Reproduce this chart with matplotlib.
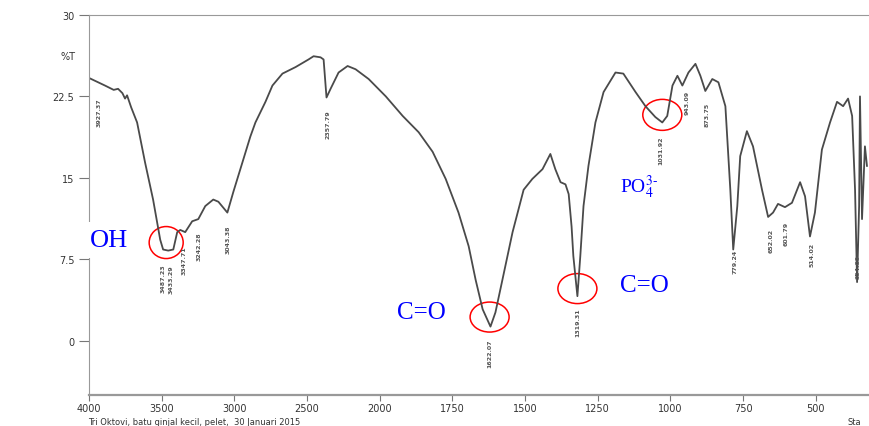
import numpy as np
import matplotlib.pyplot as plt
from matplotlib.patches import Ellipse
from matplotlib.transforms import ScaledTranslation

plt.rcParams['mathtext.fontset'] = 'stix'

# spektrum FTIR (bilangan gelombang cm-1, %T)
wn = [4000, 3890, 3830, 3800, 3770, 3752, 3738, 3710, 3669, 3614, 3559, 3510,
      3490, 3455, 3420, 3393, 3372, 3338, 3290, 3248, 3200, 3145, 3110, 3048,
      3007, 2945, 2890, 2855, 2786, 2738, 2669, 2579, 2490, 2455, 2407, 2386,
      2366, 2338, 2283, 2221, 2166, 2076, 1979, 1921, 1866, 1818, 1773, 1729,
      1694, 1670, 1646, 1619, 1602, 1578, 1543, 1505, 1475, 1440, 1413, 1396,
      1378, 1361, 1350, 1340, 1334, 1320, 1310, 1299, 1282, 1258, 1230, 1189,
      1162, 1120, 1086, 1052, 1028, 1011, 993, 976, 959, 938, 914, 897, 880,
      856, 835, 811, 794, 784, 770, 760, 737, 716, 685, 664, 647, 630, 606,
      582, 554, 537, 520, 503, 479, 451, 427, 406, 389, 375, 365, 358, 351,
      348, 341, 331, 324]
T = [24.2, 23.5, 23.1, 23.2, 22.8, 22.3, 22.6, 21.5, 20.1, 16.4, 13.0, 9.3,
     8.4, 8.3, 8.4, 10.0, 10.2, 10.0, 11.0, 11.2, 12.4, 13.0, 12.8, 11.8,
     13.7, 16.4, 18.8, 20.1, 22.0, 23.5, 24.6, 25.2, 25.9, 26.2, 26.1, 25.9,
     22.4, 23.2, 24.7, 25.3, 25.0, 24.1, 22.5, 20.7, 19.2, 17.4, 14.9, 11.8,
     8.7, 5.6, 2.9, 1.3, 2.6, 5.6, 10.0, 13.9, 14.9, 15.8, 17.2, 15.8,
     14.6, 14.4, 13.5, 10.5, 7.8, 4.1, 7.8, 12.4, 16.1, 20.1, 22.9, 24.7,
     24.6, 22.9, 21.6, 20.6, 20.1, 20.7, 23.5, 24.4, 23.5, 24.7, 25.5, 24.4, 23.0,
     24.1, 23.8, 21.6, 13.9, 8.4, 12.4, 17.0, 19.3, 17.9, 13.9, 11.4, 11.8, 12.6, 12.3,
     12.7, 14.6, 13.3, 9.6, 11.8, 17.6, 20.1, 22.0, 21.6, 22.3, 20.7, 13.9, 5.4, 12.4,
     22.5, 11.2, 17.9, 16.1]

# label puncak (nilai perkiraan)
peak_lbl = ['3927.37', '3487.23', '3433.29', '3347.71', '3242.28', '3043.38',
            '2357.79', '1622.07', '1319.31', '1031.92', '943.09', '873.75',
            '779.24', '652.02', '601.79', '514.02', '354.09']

xticks = [4000, 3500, 3000, 2500, 2000, 1750, 1500, 1250, 1000, 750, 500]
yticks = [0, 7.5, 15, 22.5, 30]
ytick_lbl = ['0', '7.5', '15', '22.5', '30']

# gugus fungsi yang ditandai
groups = ['OH', 'C=O', 'C=O', r'PO$_4^{3\text{-}}$']
group_wn = [3469, 1622, 1320, 1028]


def fwd(x):
    x = np.asarray(x, float)
    return np.where(x >= 2000, x, 2 * x - 2000)


def inv(u):
    u = np.asarray(u, float)
    return np.where(u >= 2000, u, (u + 2000) / 2)


fig = plt.figure(figsize=(8.69, 4.27), dpi=100)
ax = fig.add_axes([0.1024, 0.0726, 0.8976, 0.89])
ax.set_xscale('function', functions=(fwd, inv))

ax.plot(wn, T, color='#4a4a4a', lw=1.3)
ax.set_xlim(4000, 317)
ax.set_ylim(-5, 30)

ax.set_xticks(xticks)
ax.set_xticklabels([str(v) for v in xticks])
ax.set_yticks(yticks)
ax.set_yticklabels(ytick_lbl)
ax.tick_params(axis='both', colors='#777777', labelcolor='#333333', labelsize=7)
ax.tick_params(axis='y', length=7)
ax.tick_params(axis='x', length=4, pad=1.5)
ax.spines['right'].set_visible(False)
for s in ['left', 'top', 'bottom']:
    ax.spines[s].set_color('#999999')
ax.spines['bottom'].set_linewidth(1.6)

fig.text(68 / 869, 1 - 57 / 427, '%T', fontsize=7, color='#333333', ha='center', va='center')

# label angka di bawah tiap puncak
wn_asc = np.array(wn[::-1], float)
T_asc = np.array(T[::-1], float)
for lbl in peak_lbl:
    x = float(lbl)
    y = np.interp(x, wn_asc, T_asc) - 1.3
    ax.text(x, y, lbl, rotation=90, fontsize=4.5, color='#555555',
            ha='center', va='top', fontweight='bold')

# lingkaran merah dan nama gugus
ell_size = [(0.34, 0.32), (0.39, 0.30), (0.39, 0.30), (0.39, 0.31)]
for x, (w, h) in zip(group_wn, ell_size):
    y = np.interp(x, wn_asc, T_asc)
    tr = fig.dpi_scale_trans + ScaledTranslation(x, y + 0.7, ax.transData)
    e = Ellipse((0, 0), w, h, transform=tr, fill=False, ec='red', lw=1.1, clip_on=False)
    ax.add_artist(e)

ax.text(3860, 9.3, groups[0], fontsize=19, color='blue', family='Liberation Serif',
        ha='center', va='center', clip_on=False,
        bbox=dict(facecolor='white', edgecolor='none', pad=5))
ax.text(1856, 2.6, groups[1], fontsize=18, color='blue', family='Liberation Serif',
        ha='center', va='center')
ax.text(1089, 5.1, groups[2], fontsize=18, color='blue', family='Liberation Serif',
        ha='center', va='center')
ax.text(1108, 14.2, groups[3], fontsize=14, color='blue', family='Liberation Serif',
        ha='center', va='center')

fig.text(88 / 869, 1 - 423 / 427, 'Tri Oktovi, batu ginjal kecil, pelet,  30 Januari 2015',
         fontsize=6, color='#333333', va='center')
fig.text(848 / 869, 1 - 423 / 427, 'Sta', fontsize=6, color='#333333', va='center')

fig.savefig('out.png', dpi=100)
